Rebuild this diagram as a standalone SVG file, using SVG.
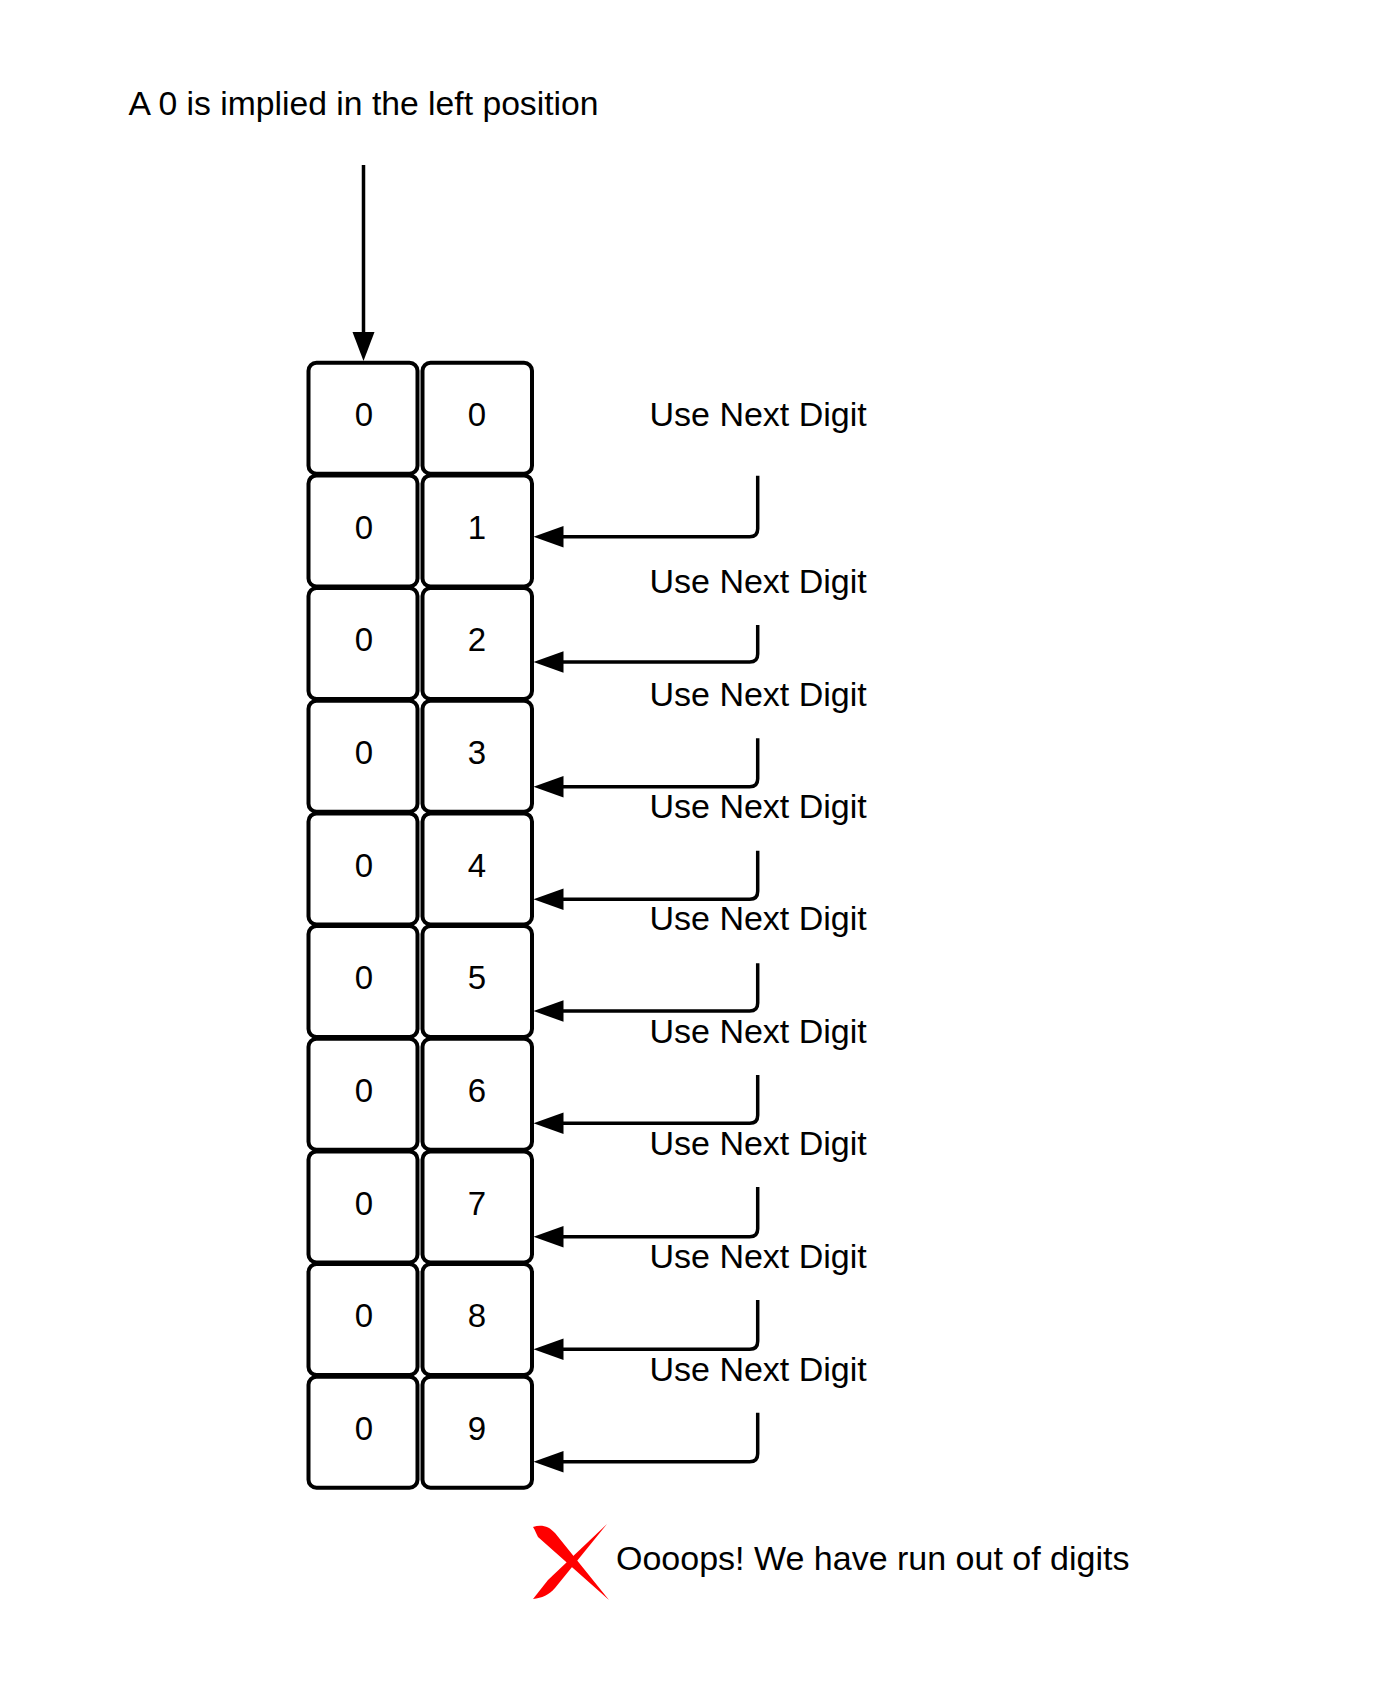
<svg xmlns="http://www.w3.org/2000/svg" width="1374" height="1697" viewBox="0 0 1374 1697">
<style>
  .t { font-family: "Liberation Sans", Arial, sans-serif; fill: #000; }
  .lbl { font-size: 34px; }
  .dig { font-size: 33px; text-anchor: middle; }
  .box { fill: #fff; stroke: #000; stroke-width: 4; }
  .conn { fill: none; stroke: #000; stroke-width: 3.5; }
  .head { fill: #000; }
  .x { fill: #ff0000; }
</style>
<rect width="1374" height="1697" fill="#fff"/>
<text class="t" x="128.5" y="115" font-size="33.7">A 0 is implied in the left position</text>

<g id="cells">
  <g id="r0"><rect class="box" x="308.5" y="362.7" width="109" height="111" rx="8"/><rect class="box" x="422.5" y="362.7" width="109.5" height="111" rx="8"/><text class="t dig" x="364" y="426">0</text><text class="t dig" x="477" y="426">0</text></g>
  <g id="r1"><rect class="box" x="308.5" y="475.4" width="109" height="111" rx="8"/><rect class="box" x="422.5" y="475.4" width="109.5" height="111" rx="8"/><text class="t dig" x="364" y="538.7">0</text><text class="t dig" x="477" y="538.7">1</text></g>
  <g id="r2"><rect class="box" x="308.5" y="588" width="109" height="111" rx="8"/><rect class="box" x="422.5" y="588" width="109.5" height="111" rx="8"/><text class="t dig" x="364" y="651.3">0</text><text class="t dig" x="477" y="651.3">2</text></g>
  <g id="r3"><rect class="box" x="308.5" y="700.7" width="109" height="111" rx="8"/><rect class="box" x="422.5" y="700.7" width="109.5" height="111" rx="8"/><text class="t dig" x="364" y="764">0</text><text class="t dig" x="477" y="764">3</text></g>
  <g id="r4"><rect class="box" x="308.5" y="813.4" width="109" height="111" rx="8"/><rect class="box" x="422.5" y="813.4" width="109.5" height="111" rx="8"/><text class="t dig" x="364" y="876.7">0</text><text class="t dig" x="477" y="876.7">4</text></g>
  <g id="r5"><rect class="box" x="308.5" y="926" width="109" height="111" rx="8"/><rect class="box" x="422.5" y="926" width="109.5" height="111" rx="8"/><text class="t dig" x="364" y="989.3">0</text><text class="t dig" x="477" y="989.3">5</text></g>
  <g id="r6"><rect class="box" x="308.5" y="1038.7" width="109" height="111" rx="8"/><rect class="box" x="422.5" y="1038.7" width="109.5" height="111" rx="8"/><text class="t dig" x="364" y="1102">0</text><text class="t dig" x="477" y="1102">6</text></g>
  <g id="r7"><rect class="box" x="308.5" y="1151.4" width="109" height="111" rx="8"/><rect class="box" x="422.5" y="1151.4" width="109.5" height="111" rx="8"/><text class="t dig" x="364" y="1214.7">0</text><text class="t dig" x="477" y="1214.7">7</text></g>
  <g id="r8"><rect class="box" x="308.5" y="1264" width="109" height="111" rx="8"/><rect class="box" x="422.5" y="1264" width="109.5" height="111" rx="8"/><text class="t dig" x="364" y="1327.3">0</text><text class="t dig" x="477" y="1327.3">8</text></g>
  <g id="r9"><rect class="box" x="308.5" y="1376.7" width="109" height="111" rx="8"/><rect class="box" x="422.5" y="1376.7" width="109.5" height="111" rx="8"/><text class="t dig" x="364" y="1440">0</text><text class="t dig" x="477" y="1440">9</text></g>
</g>

<g id="labels">
  <text class="t lbl" x="649.5" y="425.7">Use Next Digit</text>
  <text class="t lbl" x="649.5" y="593.3">Use Next Digit</text>
  <text class="t lbl" x="649.5" y="705.5">Use Next Digit</text>
  <text class="t lbl" x="649.5" y="817.5">Use Next Digit</text>
  <text class="t lbl" x="649.5" y="930">Use Next Digit</text>
  <text class="t lbl" x="649.5" y="1042.5">Use Next Digit</text>
  <text class="t lbl" x="649.5" y="1155.3">Use Next Digit</text>
  <text class="t lbl" x="649.5" y="1268.3">Use Next Digit</text>
  <text class="t lbl" x="649.5" y="1380.5">Use Next Digit</text>
</g>

<g id="connectors">
  <line class="conn" x1="363.5" y1="165" x2="363.5" y2="334"/>
  <polygon class="head" points="363.5,361 352.5,332 374.5,332"/>

  <path class="conn" d="M757.7,475.7 V528.7 Q757.7,536.7 749.7,536.7 H560"/>
  <polygon class="head" points="533.5,536.7 563.5,525.9 563.5,547.5"/>
  <path class="conn" d="M757.7,625 V654 Q757.7,662 749.7,662 H560"/>
  <polygon class="head" points="533.5,662 563.5,651.2 563.5,672.8"/>
  <path class="conn" d="M757.7,738.3 V778.7 Q757.7,786.7 749.7,786.7 H560"/>
  <polygon class="head" points="533.5,786.7 563.5,775.9 563.5,797.5"/>
  <path class="conn" d="M757.7,850.7 V891.3 Q757.7,899.3 749.7,899.3 H560"/>
  <polygon class="head" points="533.5,899.3 563.5,888.5 563.5,910.1"/>
  <path class="conn" d="M757.7,963.3 V1003 Q757.7,1011 749.7,1011 H560"/>
  <polygon class="head" points="533.5,1011 563.5,1000.2 563.5,1021.8"/>
  <path class="conn" d="M757.7,1075 V1115.3 Q757.7,1123.3 749.7,1123.3 H560"/>
  <polygon class="head" points="533.5,1123.3 563.5,1112.5 563.5,1134.1"/>
  <path class="conn" d="M757.7,1187 V1228.7 Q757.7,1236.7 749.7,1236.7 H560"/>
  <polygon class="head" points="533.5,1236.7 563.5,1225.9 563.5,1247.5"/>
  <path class="conn" d="M757.7,1300 V1341.3 Q757.7,1349.3 749.7,1349.3 H560"/>
  <polygon class="head" points="533.5,1349.3 563.5,1338.5 563.5,1360.1"/>
  <path class="conn" d="M757.7,1412.7 V1453.7 Q757.7,1461.7 749.7,1461.7 H560"/>
  <polygon class="head" points="533.5,1461.7 563.5,1450.9 563.5,1472.5"/>
</g>

<g id="oops">
  <path class="x" d="M533,1527 C541,1524 549,1526 555,1533 L609,1600 L538,1537 C536,1533 535,1530 533,1527 Z"/>
  <path class="x" d="M607,1524 L555,1588 C549,1595 542,1598 533,1599 L548,1580 Z"/>
  <text class="t" x="616" y="1570" font-size="34">Oooops! We have run out of digits</text>
</g>
</svg>
